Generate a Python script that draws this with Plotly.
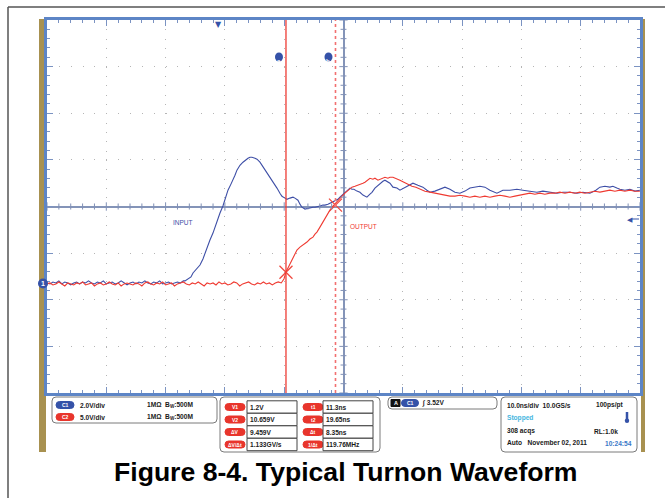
import plotly.graph_objects as go

# ---------------- data ----------------
channel_names = ["C1", "C2"]
channel_volts_per_div = [2.0, 5.0]
channel_ground_div = -1.65          # both grounds sit 1.65 div below centre
time_range_ns = [-29.0, 71.0]       # 10 ns/div, 10 divisions
trigger_time_ns = 0.0
cursor_t_ns = [11.3, 19.65]
cursor_marker_v = [1.2, 8.4]        # on C2 (output)

input_t = [
    -29.0, -28.5, -28.0, -27.5, -27.0, -26.5, -26.0, -25.5, -25.0, -24.5,
    -24.0, -23.5, -23.0, -22.5, -22.0, -21.5, -21.0, -20.5, -20.0, -19.5,
    -19.0, -18.5, -18.0, -17.5, -17.0, -16.5, -16.0, -15.5, -15.0, -14.5,
    -14.0, -13.5, -13.0, -12.5, -12.0, -11.5, -11.0, -10.5, -10.0, -9.5,
    -9.0, -8.5, -8.0, -7.5, -7.0, -6.5, -6.0,
    -5.73, -5.23, -4.72, -4.38, -3.88, -3.20, -2.70, -2.36, -1.85, -1.52,
    -1.01, -0.67, -0.17, 0.17, 0.67, 1.18, 1.52, 2.02, 2.36, 2.70,
    3.03, 3.54, 4.05, 4.38, 4.89, 5.23, 5.56, 6.07, 6.41, 6.91,
    7.25, 7.76, 8.09, 8.60, 8.94, 9.44, 9.78, 10.28, 10.62, 11.13,
    11.46, 11.97, 12.48, 12.81, 13.32, 13.66, 13.99, 14.50, 15.01, 15.34,
    15.85, 16.19, 16.69, 17.03, 17.53, 17.87, 18.38, 18.71, 19.22, 19.56,
    20.06, 20.40, 20.91, 21.24, 21.75, 22.09, 22.42, 22.76, 23.27, 23.77,
    24.28, 24.95, 25.46, 25.80, 26.30, 26.81, 27.14, 27.65, 27.99, 28.49,
    28.83, 29.34, 30.01, 30.52, 31.19, 31.87, 32.71, 33.55, 34.39, 35.07,
    35.58, 36.42, 37.26, 38.11, 38.95, 39.79, 40.63, 41.48, 42.32, 43.16,
    44.00, 44.85, 45.69, 46.87, 47.88, 49.06, 50.24, 51.25, 52.43, 53.61,
    54.63, 55.81, 56.99, 58.00, 59.18, 60.36, 61.37, 62.55, 63.56, 64.24,
    65.08, 65.92, 66.43, 67.10, 67.61, 68.45, 69.30, 70.14, 70.98,
]
input_v = [
    0.02, -0.02, 0.06, 0.02, 0.11, -0.02, 0.06, 0.02, -0.06, 0.02,
    0.06, -0.02, 0.06, 0.02, 0.11, 0.02, -0.02, 0.06, 0.02, 0.11,
    -0.02, 0.02, 0.06, -0.02, 0.02, 0.11, 0.02, -0.06, 0.02, 0.06,
    -0.02, 0.06, 0.02, 0.11, 0.02, -0.02, 0.06, 0.02, 0.11, -0.02,
    0.02, 0.06, -0.02, 0.02, 0.06, 0.02, 0.11,
    0.11, 0.19, 0.28, 0.45, 0.58, 0.79, 1.05, 1.30, 1.60, 1.86,
    2.16, 2.42, 2.80, 3.02, 3.32, 3.70, 4.00, 4.26, 4.43, 4.64,
    4.86, 5.07, 5.20, 5.28, 5.37, 5.41, 5.41, 5.37, 5.33, 5.20,
    5.07, 4.90, 4.77, 4.60, 4.43, 4.26, 4.09, 3.87, 3.74, 3.66,
    3.61, 3.66, 3.70, 3.66, 3.57, 3.40, 3.27, 3.19, 3.23, 3.23,
    3.27, 3.27, 3.32, 3.32, 3.36, 3.36, 3.40, 3.44, 3.49, 3.53,
    3.61, 3.70, 3.83, 3.91, 4.00, 4.09, 4.04, 4.04, 3.96, 3.91,
    3.79, 3.70, 3.83, 3.91, 4.09, 4.21, 4.30, 4.38, 4.43, 4.34,
    4.30, 4.13, 4.09, 4.00, 4.09, 4.21, 4.30, 4.21, 4.13, 4.00,
    3.91, 3.96, 4.04, 4.13, 4.04, 3.91, 3.87, 3.96, 4.09, 4.13,
    4.17, 4.13, 4.00, 3.87, 4.00, 4.00, 4.04, 4.00, 3.96, 3.91,
    3.96, 3.91, 3.87, 3.91, 3.91, 3.87, 3.91, 3.87, 4.00, 4.13,
    4.17, 4.13, 4.17, 4.09, 4.04, 4.00, 4.04, 3.96, 4.00,
]

output_t = [
    -29.0, -28.5, -28.0, -27.5, -27.0, -26.5, -26.0, -25.5, -25.0, -24.5,
    -24.0, -23.5, -23.0, -22.5, -22.0, -21.5, -21.0, -20.5, -20.0, -19.5,
    -19.0, -18.5, -18.0, -17.5, -17.0, -16.5, -16.0, -15.5, -15.0, -14.5,
    -14.0, -13.5, -13.0, -12.5, -12.0, -11.5, -11.0, -10.5, -10.0, -9.5,
    -9.0, -8.5, -8.0, -7.5, -7.0, -6.5, -6.0, -5.5, -5.0, -4.5,
    -4.0, -3.5, -3.0, -2.5, -2.0, -1.5, -1.0, -0.5, 0.0, 0.5,
    1.0, 1.5, 2.0, 2.5, 3.0, 3.5, 4.0, 4.5, 5.0, 5.5,
    6.0, 6.5, 7.0, 7.5, 8.0, 8.5, 9.0, 9.5, 10.0, 10.5,
    10.96, 11.30, 11.63, 11.97, 12.48, 12.81, 13.15, 13.66, 14.16, 14.50,
    14.84, 15.34, 15.85, 16.19, 16.52, 17.03, 17.53, 18.04, 18.38, 18.71,
    19.22, 19.73, 20.06, 20.40, 20.91, 21.24, 21.58, 22.09, 22.42, 22.93,
    23.44, 23.77, 24.28, 24.62, 25.12, 25.46, 25.96, 26.30, 26.81, 27.14,
    27.65, 27.99, 28.49, 28.83, 29.34, 29.84, 30.52, 31.19, 31.87, 32.54,
    33.21, 33.89, 34.73, 35.58, 36.42, 37.26, 38.11, 38.95, 39.79, 40.63,
    41.48, 42.32, 43.16, 44.00, 44.85, 45.69, 46.53, 47.38, 48.22, 49.06,
    49.91, 50.75, 51.59, 52.43, 53.28, 54.12, 54.96, 55.81, 56.65, 57.49,
    58.34, 59.18, 60.02, 60.86, 61.71, 62.55, 63.39, 64.24, 65.08, 65.92,
    66.77, 67.61, 68.45, 69.30, 70.14, 70.98,
]
output_v = [
    -0.05, 0.05, -0.16, -0.05, 0.16, -0.05, -0.27, 0.05, -0.05, -0.16,
    0.05, -0.05, 0.16, -0.16, -0.05, 0.05, -0.27, -0.05, 0.05, -0.16,
    -0.05, 0.16, -0.05, -0.16, 0.05, -0.27, -0.05, 0.05, -0.05, -0.16,
    0.05, -0.05, -0.27, 0.05, 0.16, -0.05, -0.16, 0.05, -0.05, 0.16,
    -0.16, -0.05, 0.05, -0.27, -0.05, 0.05, 0.16, -0.05, -0.16, 0.05,
    -0.05, 0.16, -0.05, -0.27, 0.05, -0.05, 0.05, -0.16, 0.16, -0.05,
    0.05, -0.16, -0.05, 0.16, 0.05, -0.27, -0.05, 0.05, 0.16, -0.05,
    -0.16, 0.05, -0.05, 0.16, -0.05, 0.05, -0.16, 0.05, 0.16, 0.05,
    0.48, 1.23, 1.66, 2.09, 2.83, 3.26, 3.58, 3.90, 4.12, 4.22,
    4.44, 4.76, 4.97, 5.29, 5.51, 6.04, 6.58, 7.22, 7.54, 7.86,
    8.29, 8.61, 8.82, 9.04, 9.46, 9.68, 9.89, 10.21, 10.32, 10.43,
    10.53, 10.64, 10.75, 10.86, 11.07, 11.28, 11.18, 11.28, 11.07, 11.18,
    11.28, 11.39, 11.28, 11.39, 11.39, 11.28, 11.07, 10.86, 10.64, 10.43,
    10.32, 10.11, 9.89, 9.79, 9.68, 9.57, 9.46, 9.36, 9.36, 9.46,
    9.36, 9.25, 9.36, 9.25, 9.36, 9.25, 9.36, 9.46, 9.36, 9.25,
    9.36, 9.46, 9.57, 9.68, 9.57, 9.68, 9.57, 9.68, 9.68, 9.79,
    9.68, 9.79, 9.68, 9.79, 9.68, 9.79, 9.89, 9.79, 9.89, 10.00,
    9.89, 10.00, 9.89, 10.00, 9.89, 9.89,
]
assert len(input_t) == len(input_v)
assert len(output_t) == len(output_v)

channel_info = ["2.0V/div", "5.0V/div"]
channel_term = ["1MΩ", "1MΩ"]
channel_bw = ["500M", "500M"]
meas_labels_a = ["V1", "V2", "ΔV", "ΔV/Δt"]
meas_values_a = ["1.2V", "10.659V", "9.459V", "1.133GV/s"]
meas_labels_b = ["t1", "t2", "Δt", "1/Δt"]
meas_values_b = ["11.3ns", "19.65ns", "8.35ns", "119.76MHz"]
trigger_text = "3.52V"
acq_lines = ["10.0ns/div  10.0GS/s", "Stopped", "308 acqs", "Auto   November 02, 2011"]
acq_right = ["100ps/pt", "", "RL:1.0k", "10:24:54"]
caption = "Figure 8-4. Typical Turnon Waveform"

# ---------------- layout helpers ----------------
W, H = 665, 498
L, R, T, B = 47, 640, 20, 393


def px(x):
    return (x - L) / (R - L)


def py(y):
    return (B - y) / (B - T)


BLUE = "#3d4ea6"
RED = "#ef3a31"
PILL_BLUE = "#3552a8"
PILL_RED = "#e8352c"
FONT = "Liberation Sans, Arial, sans-serif"

shapes = []
annotations = []


def rrect(x0, y0, x1, y1, r, line="#7a7a7a", fill="white", width=1):
    X0, X1 = px(x0), px(x1)
    Y0, Y1 = py(y0), py(y1)
    rx, ry = r / (R - L), r / (B - T)
    p = (f"M {X0+rx},{Y0} L {X1-rx},{Y0} Q {X1},{Y0} {X1},{Y0-ry} "
         f"L {X1},{Y1+ry} Q {X1},{Y1} {X1-rx},{Y1} L {X0+rx},{Y1} "
         f"Q {X0},{Y1} {X0},{Y1+ry} L {X0},{Y0-ry} Q {X0},{Y0} {X0+rx},{Y0} Z")
    shapes.append(dict(type="path", xref="paper", yref="paper", path=p,
                       line=dict(color=line, width=width), fillcolor=fill, layer="above"))


def rect(x0, y0, x1, y1, line="#444", fill="white", width=1):
    shapes.append(dict(type="rect", xref="paper", yref="paper",
                       x0=px(x0), x1=px(x1), y0=py(y1), y1=py(y0),
                       line=dict(color=line, width=width), fillcolor=fill, layer="above"))


def txt(x, y, s, size=6.6, color="#1a1a1a", anchor="left", bold=True, **kw):
    annotations.append(dict(x=px(x), y=py(y), xref="paper", yref="paper",
                            text=f"<b>{s}</b>" if bold else s, showarrow=False,
                            xanchor=anchor, yanchor="middle", borderpad=0,
                            font=dict(size=size, color=color, family=FONT), **kw))


def pill(xc, yc, w, h, label, fill):
    rrect(xc - w / 2, yc - h / 2, xc + w / 2, yc + h / 2, h / 2, line=fill, fill=fill)
    txt(xc, yc, label, size=5, color="white", anchor="center")


# ---------------- frame decorations ----------------
shapes.append(dict(type="line", xref="paper", yref="paper", x0=px(8), x1=px(665),
                   y0=py(7), y1=py(7), line=dict(color="#555", width=1.5)))
shapes.append(dict(type="line", xref="paper", yref="paper", x0=px(8), x1=px(8),
                   y0=py(7), y1=py(498), line=dict(color="#555", width=1.5)))
for x0, x1 in [(39, 46), (641, 645)]:
    shapes.append(dict(type="rect", xref="paper", yref="paper", x0=px(x0), x1=px(x1),
                       y0=py(452), y1=py(19), fillcolor="#a89150", line=dict(width=0),
                       layer="below"))

# centre-axis tick marks (in division units)
TICK_C = "#8090b6"
for i in range(-25, 26):
    xd = i * 0.2
    h = 0.09 if i % 5 == 0 else 0.065
    shapes.append(dict(type="line", xref="x", yref="y", x0=xd, x1=xd, y0=-h, y1=h,
                       line=dict(color=TICK_C, width=1)))
for i in range(-20, 21):
    yd = i * 0.2
    h = 0.07 if i % 5 == 0 else 0.05
    shapes.append(dict(type="line", xref="x", yref="y", x0=-h, x1=h, y0=yd, y1=yd,
                       line=dict(color=TICK_C, width=1)))

# cursors
shapes.append(dict(type="line", xref="x2", yref="paper", x0=cursor_t_ns[0], x1=cursor_t_ns[0],
                   y0=0, y1=1, line=dict(color="#ee3b34", width=1.3)))
shapes.append(dict(type="line", xref="x2", yref="paper", x0=cursor_t_ns[1], x1=cursor_t_ns[1],
                   y0=0, y1=1, line=dict(color="#f27070", width=1.6, dash="dot")))
for t, lab in zip(cursor_t_ns, ["a", "b"]):
    shapes.append(dict(type="circle", xref="x2", yref="paper", xsizemode="pixel",
                       ysizemode="pixel", xanchor=t, yanchor=py(57),
                       x0=-11, x1=-3, y0=-4.5, y1=4.5, fillcolor=PILL_BLUE,
                       line=dict(width=0), layer="above"))
    annotations.append(dict(x=t, xref="x2", y=py(57), yref="paper", xshift=-7,
                            text=f"<b>{lab}</b>", showarrow=False, borderpad=0,
                            font=dict(size=6, color="white", family=FONT)))

# trigger marker at top
annotations.append(dict(x=trigger_time_ns, xref="x2", y=1, yref="paper", text="▼",
                        showarrow=False, yanchor="top", yshift=2,
                        font=dict(size=8, color=PILL_BLUE, family="DejaVu Sans")))
# trigger level arrow on the right
txt(630, 219, "◀", size=7, color=PILL_BLUE, anchor="center", bold=False)
shapes.append(dict(type="line", xref="paper", yref="paper", x0=px(632), x1=px(639),
                   y0=py(219), y1=py(219), line=dict(color=PILL_BLUE, width=1)))
# ground marker "1"
shapes.append(dict(type="circle", xref="paper", yref="paper", x0=px(38), x1=px(48),
                   y0=py(288.5), y1=py(278.5), fillcolor=PILL_BLUE, line=dict(width=0),
                   layer="above"))
txt(43, 283.5, "1", size=7, color="white", anchor="center")

# trace labels
txt(172, 222, "INPUT", size=6.5, color=BLUE, bold=False)
txt(349, 227, "OUTPUT", size=6.5, color=RED, bold=False)

# ---------------- info panel ----------------
# box 1: channel setup
rrect(52, 397, 217, 423, 4)
for i, (nm, col) in enumerate(zip(channel_names, [PILL_BLUE, PILL_RED])):
    yc = 405 + i * 12
    pill(65, yc, 18, 7, nm, col)
    txt(79, yc, channel_info[i])
    txt(146, yc, channel_term[i] + "  B<sub>W</sub>:" + channel_bw[i])

# box 2: cursor measurements
rrect(220, 397, 380, 452, 4)
row_y = [407, 419.5, 432, 444.5]
for i in range(4):
    yc = row_y[i]
    pill(235, yc, 20, 7, meas_labels_a[i], PILL_RED)
    rect(247, yc - 6.2, 297, yc + 6.2)
    txt(249, yc, meas_values_a[i])
    pill(313, yc, 20, 7, meas_labels_b[i], PILL_RED)
    rect(323, yc - 6.2, 373, yc + 6.2)
    txt(325, yc, meas_values_b[i])

# box 3: trigger
rrect(388, 397, 497, 409, 4)
rect(391, 399.5, 400, 406.5, line="#111", fill="#111")
txt(395.5, 403, "A", size=5.5, color="white", anchor="center")
pill(410, 403, 17, 7, channel_names[0], PILL_BLUE)
txt(421, 403, "∫ " + trigger_text)

# box 4: acquisition
rrect(501, 397, 637, 452, 4)
acq_colors = ["#1a1a1a", "#45b6e0", "#1a1a1a", "#1a1a1a"]
acq_right_colors = ["#1a1a1a", "#1a1a1a", "#1a1a1a", "#3a78c8"]
acq_right_x = [595, 0, 593, 604]
for i, yc in enumerate([405, 418, 431, 443]):
    txt(506, yc, acq_lines[i], color=acq_colors[i])
    if acq_right[i]:
        txt(acq_right_x[i], yc, acq_right[i], color=acq_right_colors[i])
shapes.append(dict(type="line", xref="paper", yref="paper", x0=px(627), x1=px(627),
                   y0=py(420), y1=py(412), line=dict(color=PILL_BLUE, width=2.5)))
shapes.append(dict(type="circle", xref="paper", yref="paper", x0=px(624.8), x1=px(629.2),
                   y0=py(423), y1=py(418.6), fillcolor=PILL_BLUE, line=dict(width=0)))

# caption
annotations.append(dict(x=px(345), y=py(472), xref="paper", yref="paper",
                        text=f"<b>{caption}</b>", showarrow=False, xanchor="center",
                        yanchor="middle", font=dict(size=26.6, color="#000", family=FONT)))

# ---------------- figure ----------------
ch_range = []
for vpd in channel_volts_per_div:
    ch_range.append([(-4 - channel_ground_div) * vpd, (4 - channel_ground_div) * vpd])

fig = go.Figure()
fig.add_trace(go.Scatter(x=input_t, y=input_v, xaxis="x2", yaxis="y2", mode="lines",
                         line=dict(color=BLUE, width=1.1), hoverinfo="skip"))
fig.add_trace(go.Scatter(x=output_t, y=output_v, xaxis="x2", yaxis="y3", mode="lines",
                         line=dict(color=RED, width=1.1), hoverinfo="skip"))
fig.add_trace(go.Scatter(x=cursor_t_ns, y=cursor_marker_v, xaxis="x2", yaxis="y3",
                         mode="markers", hoverinfo="skip",
                         marker=dict(symbol="x-thin", size=13,
                                     line=dict(color="#f04a40", width=1.3))))

axis_common = dict(showticklabels=False, showline=True, linecolor="#5d85c6", linewidth=2.5,
                   mirror="allticks", ticks="inside", ticklen=6, tickcolor="#7b93c2",
                   tickwidth=1, showgrid=True, gridcolor="#b5b5b5", gridwidth=1,
                   zeroline=True, zerolinecolor="#8494b8", zerolinewidth=1.5,
                   tick0=0, dtick=1, fixedrange=True)
fig.update_layout(
    width=W, height=H,
    margin=dict(l=L, r=W - R, t=T, b=H - B, pad=0),
    paper_bgcolor="white", plot_bgcolor="white",
    showlegend=False,
    xaxis=dict(range=[-5, 5], griddash="1px,8.33px",
               minor=dict(dtick=0.2, ticks="inside", ticklen=3, tickcolor="#7b93c2",
                          showgrid=False), **axis_common),
    yaxis=dict(range=[-4, 4], griddash="1px,10.86px",
               minor=dict(dtick=0.2, ticks="inside", ticklen=3, tickcolor="#7b93c2",
                          showgrid=False), **axis_common),
    xaxis2=dict(range=time_range_ns, overlaying="x", anchor="y", visible=False,
                fixedrange=True),
    yaxis2=dict(range=ch_range[0], overlaying="y", anchor="x", visible=False,
                fixedrange=True),
    yaxis3=dict(range=ch_range[1], overlaying="y", anchor="x", visible=False,
                fixedrange=True),
    shapes=shapes,
    annotations=annotations,
)

fig.write_html("out.html", config={"displayModeBar": False},
               post_script="document.body.style.margin='0';document.body.style.padding='0';")
